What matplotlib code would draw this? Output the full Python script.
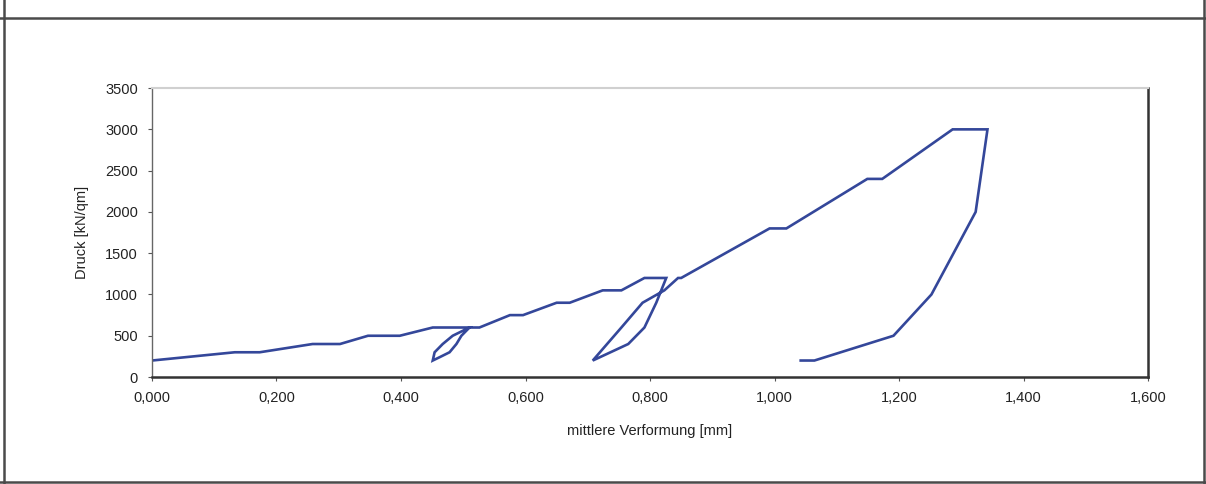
import matplotlib
matplotlib.use('Agg')

from matplotlib import pyplot as plt
from matplotlib.lines import Line2D
from matplotlib.ticker import FuncFormatter, MultipleLocator
import numpy as np

plt.rcParams['font.family'] = ['Liberation Sans', 'DejaVu Sans']

# Laststufen mit Kriechplateaus, Ent- und Wiederbelastung
x_belastung_1 = [0.000, 0.133, 0.173, 0.258, 0.302, 0.347, 0.398, 0.451, 0.510]
y_belastung_1 = [200, 300, 300, 400, 400, 500, 500, 600, 600]

x_entlastung_1 = [0.497, 0.489, 0.478, 0.462, 0.451]
y_entlastung_1 = [500, 400, 300, 240, 200]

x_wiederbel_1 = [0.454, 0.467, 0.483, 0.510, 0.526]
y_wiederbel_1 = [300, 400, 500, 600, 600]

x_belastung_2 = [0.575, 0.596, 0.650, 0.671, 0.724, 0.754, 0.791, 0.826]
y_belastung_2 = [750, 750, 900, 900, 1050, 1050, 1200, 1200]

x_entlastung_2 = [0.818, 0.810, 0.791, 0.765, 0.708]
y_entlastung_2 = [1050, 900, 600, 400, 200]

x_wiederbel_2 = [0.754, 0.788, 0.823, 0.845, 0.850]
y_wiederbel_2 = [600, 900, 1050, 1200, 1200]

x_belastung_3 = [0.992, 1.019, 1.149, 1.173, 1.286, 1.342]
y_belastung_3 = [1800, 1800, 2400, 2400, 3000, 3000]

x_entlastung_3 = [1.323, 1.252, 1.191, 1.064, 1.042]
y_entlastung_3 = [2000, 1000, 500, 200, 200]

x_ticks = np.arange(0, 1.61, 0.2)
y_ticks = np.arange(0, 3501, 500)

x = np.concatenate([x_belastung_1, x_entlastung_1, x_wiederbel_1, x_belastung_2,
                    x_entlastung_2, x_wiederbel_2, x_belastung_3, x_entlastung_3])
y = np.concatenate([y_belastung_1, y_entlastung_1, y_wiederbel_1, y_belastung_2,
                    y_entlastung_2, y_wiederbel_2, y_belastung_3, y_entlastung_3])

fig = plt.figure(figsize=(12.06, 4.84), dpi=100)
ax = fig.add_axes([0.126, 0.221, 0.826, 0.597])

ax.plot(x, y, color='#34479A', lw=1.9, solid_joinstyle='miter')

ax.set_xlim(0, 1.6)
ax.set_ylim(0, 3500)
ax.set_xticks(x_ticks)
ax.set_yticks(y_ticks)
ax.xaxis.set_major_formatter(FuncFormatter(lambda v, p: f"{v:.3f}".replace('.', ',')))
ax.tick_params(axis='both', direction='out', length=3, width=0.8,
               color='#555555', labelsize=10.5, labelcolor='#222222', pad=7)

ax.spines['top'].set_color('#d0d0d0')
ax.spines['top'].set_linewidth(1.5)
ax.spines['left'].set_color('#666666')
ax.spines['left'].set_linewidth(1.0)
ax.spines['bottom'].set_color('#333333')
ax.spines['bottom'].set_linewidth(1.8)
ax.spines['right'].set_color('#333333')
ax.spines['right'].set_linewidth(1.8)

ax.set_xlabel("mittlere Verformung [mm]", fontsize=10.5, color='#222222', labelpad=14)
ax.set_ylabel("Druck [kN/qm]", fontsize=10.5, color='#222222', labelpad=12)

# Rahmen der gescannten Seite
rahmen = dict(color='#4a4a4a', lw=1.8, transform=fig.transFigure)
fig.add_artist(Line2D([0, 1], [0.963, 0.963], **rahmen))
fig.add_artist(Line2D([0, 1], [0.004, 0.004], **rahmen))
fig.add_artist(Line2D([0.003, 0.003], [0, 1], **rahmen))
fig.add_artist(Line2D([0.998, 0.998], [0, 1], **rahmen))

fig.savefig('out.png', dpi=100)
